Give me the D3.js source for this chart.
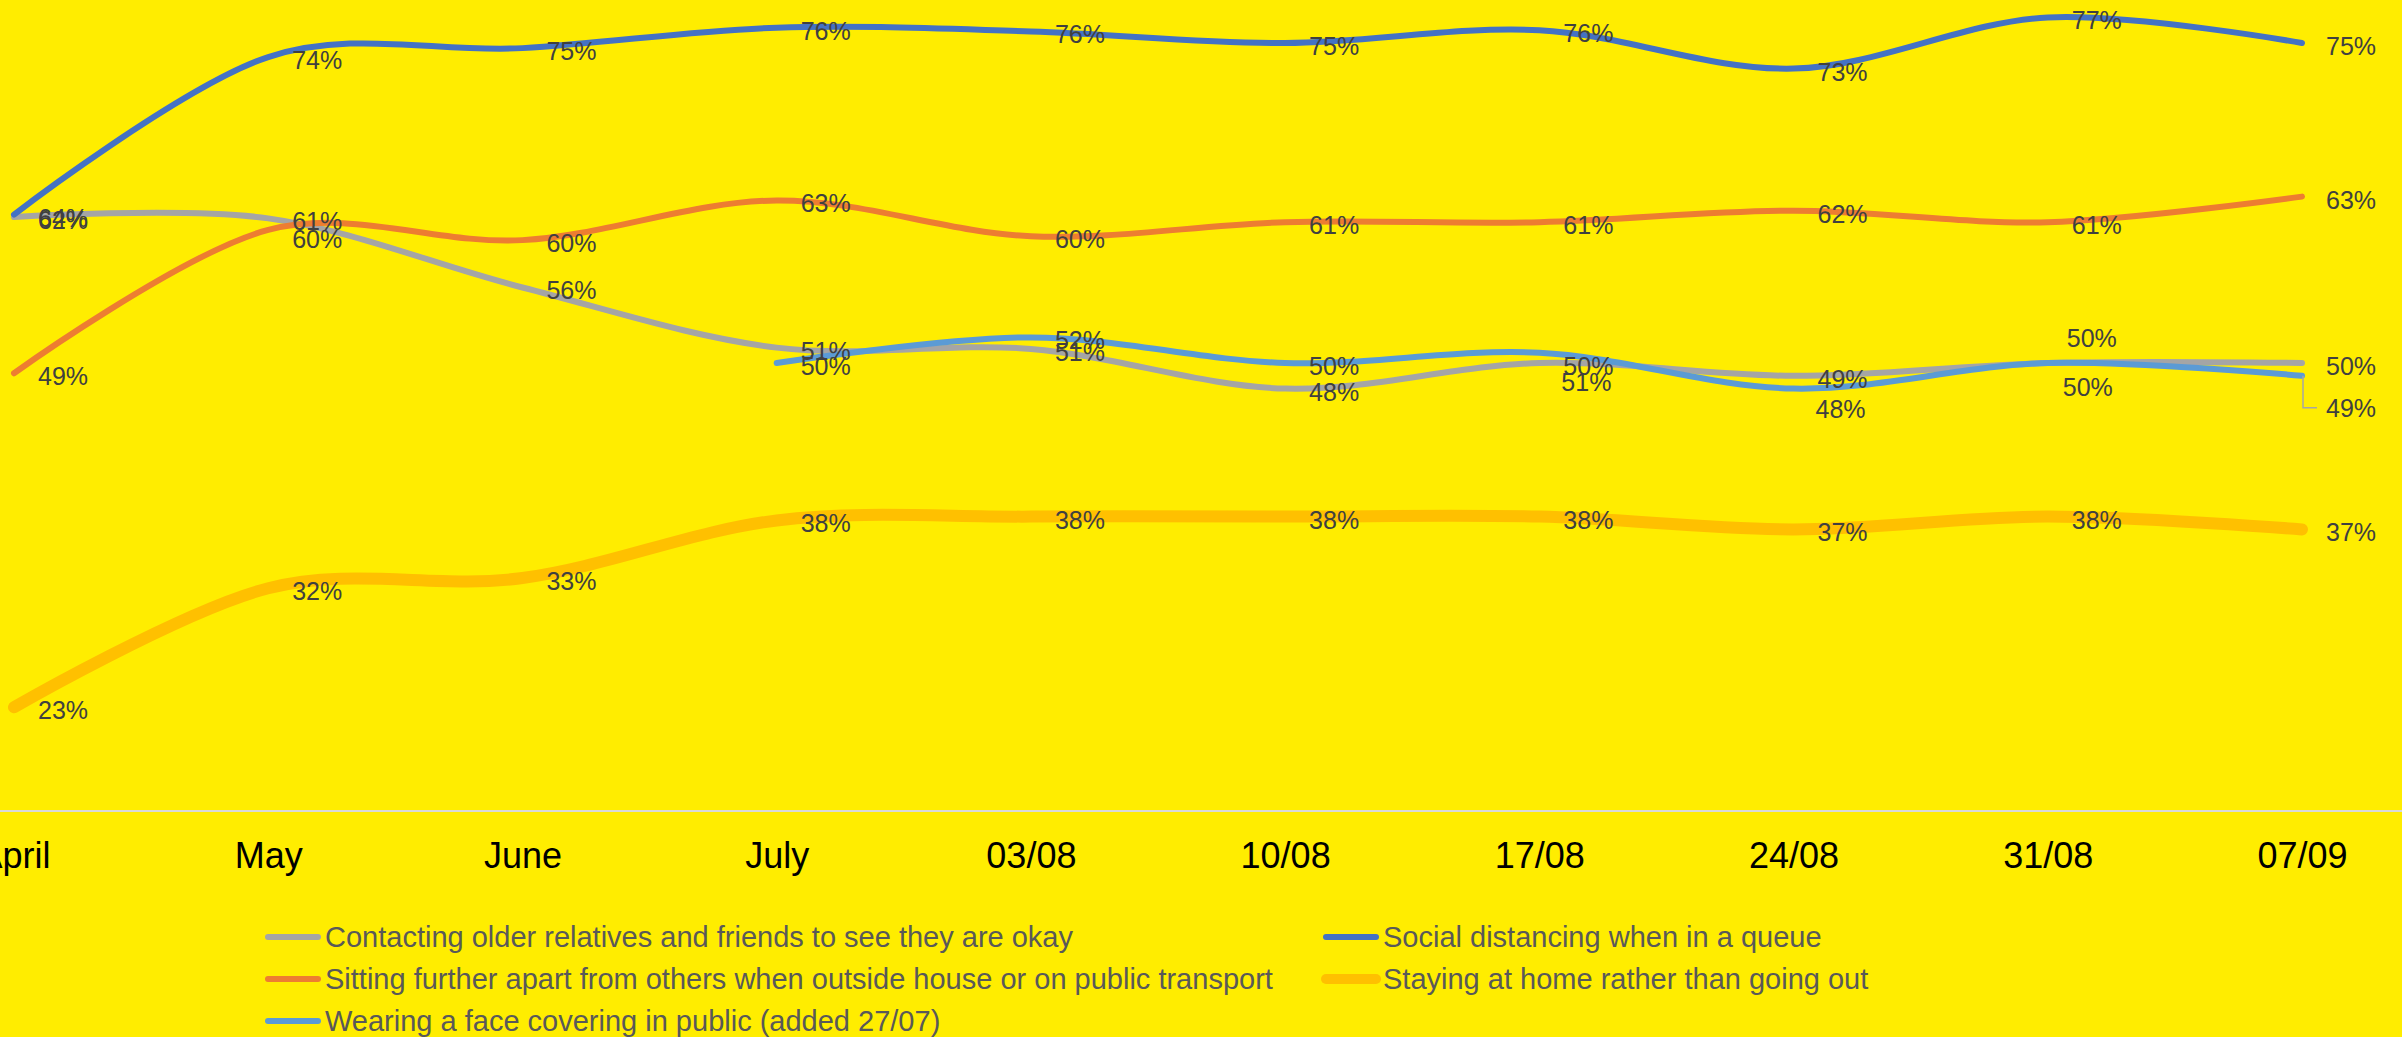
<!DOCTYPE html>
<html>
<head>
<meta charset="utf-8">
<script src="https://cdn.jsdelivr.net/npm/d3@7"></script>
<style>
    body { margin: 0; background: #FFED00; }
    svg { display: block; }
</style>
</head>
<body>
<div id="chart"></div>
<script>
// categories on the x axis
var categories = ["April", "May", "June", "July", "03/08", "10/08", "17/08", "24/08", "31/08", "07/09"];

// share of people (%) for each behaviour
var contactingValues = [61.4, 61.3, 55.9, 51.2, 51.1, 48.0, 50.0, 49.0, 50.0, 50.0];
var distancingValues = [61.6, 73.9, 74.6, 76.2, 75.9, 75.0, 76.0, 73.0, 77.0, 75.0];
var sittingValues    = [49.2, 60.4, 59.6, 62.7, 59.9, 61.0, 61.0, 61.9, 61.0, 63.0];
var stayingValues    = [23.1, 32.4, 33.2, 37.7, 38.0, 38.0, 38.0, 37.0, 38.0, 37.0];
var faceValues       = [null, null, null, 50.0, 52.0, 50.0, 50.8, 48.0, 50.0, 49.0];

var seriesNames = [
    "Contacting older relatives and friends to see they are okay",
    "Social distancing when in a queue",
    "Sitting further apart from others when outside house or on public transport",
    "Staying at home rather than going out",
    "Wearing a face covering in public (added 27/07)"
];

// the April labels on the chart do not match where the lines start
var aprilLabels = ["62%", "64%"];

var yDomain = [15, 78];

function Chart(){
    this.width = 2402;
    this.height = 1037;
    this.svg = null;
    this.x = null;
    this.y = null;
    this.run();
}

Chart.prototype.run = function(){
    this.svg = d3.select("#chart").append("svg")
        .attr("width", this.width)
        .attr("height", this.height);

    this.x = d3.scalePoint().domain(categories).range([14, 2302]);
    this.y = d3.scaleLinear().domain(yDomain).range([811, 811 - 63 * 12.8]);

    this.series = [
        {key: "contacting", name: seriesNames[0], values: contactingValues, color: "#A5A5A5", width: 6},
        {key: "distancing", name: seriesNames[1], values: distancingValues, color: "#4472C4", width: 6},
        {key: "sitting",    name: seriesNames[2], values: sittingValues,    color: "#ED7D31", width: 6},
        {key: "staying",    name: seriesNames[3], values: stayingValues,    color: "#FFC000", width: 12},
        {key: "face",       name: seriesNames[4], values: faceValues,       color: "#5B9BD5", width: 6}
    ];

    this.drawAxis();
    this.drawLines();
    this.drawLabels();
    this.drawLegend();
}

Chart.prototype.drawAxis = function(){
    var y0 = this.y(yDomain[0]);
    this.svg.append("line")
        .attr("x1", 0).attr("x2", this.width)
        .attr("y1", y0).attr("y2", y0)
        .attr("stroke", "#D9D9D9")
        .attr("stroke-width", 2);

    var axis = d3.axisBottom(this.x).tickSize(0).tickPadding(0);
    var g = this.svg.append("g")
        .attr("transform", "translate(0," + (y0 + 57) + ")")
        .call(axis);
    g.select(".domain").remove();
    g.selectAll("text")
        .attr("dy", 0)
        .attr("y", 0)
        .attr("fill", "#000")
        .style("font-family", "'Liberation Sans', Arial, sans-serif")
        .style("font-size", "36px");
}

Chart.prototype.drawLines = function(){
    var self = this;
    var line = d3.line()
        .defined(function(d){ return d != null; })
        .x(function(d, i){ return self.x(categories[i]); })
        .y(function(d){ return self.y(d); })
        .curve(d3.curveCardinal.tension(0));

    this.svg.selectAll(".series")
        .data(this.series)
        .enter().append("path")
        .attr("class", "series")
        .attr("d", function(s){ return line(s.values); })
        .attr("fill", "none")
        .attr("stroke", function(s){ return s.color; })
        .attr("stroke-width", function(s){ return s.width; })
        .attr("stroke-linecap", "round")
        .attr("stroke-linejoin", "round");
}

/*
Data labels sit to the right of each point. A few of them were moved
by hand in the original so they do not sit on top of each other.
*/
var labelShift = {
    "sitting|May": [0, 6],
    "face|17/08": [-2, 26],
    "face|24/08": [-2, 17],
    "contacting|31/08": [-5, -28],
    "face|31/08": [-9, 21],
    "face|07/09": [0, 29]
};

Chart.prototype.drawLabels = function(){
    var self = this;
    var labels = [];
    this.series.forEach(function(s, si){
        s.values.forEach(function(v, i){
            if (v == null) return;
            var cat = categories[i];
            var text = Math.round(v) + "%";
            if (i == 0 && si < aprilLabels.length) text = aprilLabels[si];
            var shift = labelShift[s.key + "|" + cat] || [0, 0];
            labels.push({
                px: self.x(cat), py: self.y(v),
                lx: self.x(cat) + 24 + shift[0],
                ly: self.y(v) + 3 + shift[1],
                text: text,
                leader: s.key == "face" && cat == "07/09"
            });
        });
    });

    // leader line for the moved last label
    labels.filter(function(d){ return d.leader; }).forEach(function(d){
        self.svg.append("polyline")
            .attr("points", [[d.px + 1, d.py], [d.px + 1, d.ly], [d.px + 15, d.ly]].join(" "))
            .attr("fill", "none")
            .attr("stroke", "#A6A6A6")
            .attr("stroke-width", 1.5);
    });

    this.svg.selectAll(".dlabel")
        .data(labels)
        .enter().append("text")
        .attr("class", "dlabel")
        .attr("x", function(d){ return d.lx; })
        .attr("y", function(d){ return d.ly; })
        .attr("dominant-baseline", "central")
        .attr("fill", "#404040")
        .style("font-family", "'Liberation Sans', Arial, sans-serif")
        .style("font-size", "25px")
        .text(function(d){ return d.text; });
}

Chart.prototype.drawLegend = function(){
    // legend fills rows left to right, two columns
    var colX = [265, 1323];
    var rowY = [937, 979, 1021];
    var g = this.svg.append("g");
    var items = g.selectAll(".legend-item")
        .data(this.series)
        .enter().append("g")
        .attr("class", "legend-item")
        .attr("transform", function(s, i){
            return "translate(" + colX[i % 2] + "," + rowY[Math.floor(i / 2)] + ")";
        });

    items.append("line")
        .attr("x1", 3).attr("x2", 53)
        .attr("y1", 0).attr("y2", 0)
        .attr("stroke", function(s){ return s.color; })
        .attr("stroke-width", function(s){ return s.width > 6 ? 10 : 6; })
        .attr("stroke-linecap", "round");

    items.append("text")
        .attr("x", 60)
        .attr("y", 0)
        .attr("dominant-baseline", "central")
        .attr("fill", "#595959")
        .style("font-family", "'Liberation Sans', Arial, sans-serif")
        .style("font-size", "29px")
        .text(function(s){ return s.name; });
}

new Chart();
</script>
</body>
</html>
